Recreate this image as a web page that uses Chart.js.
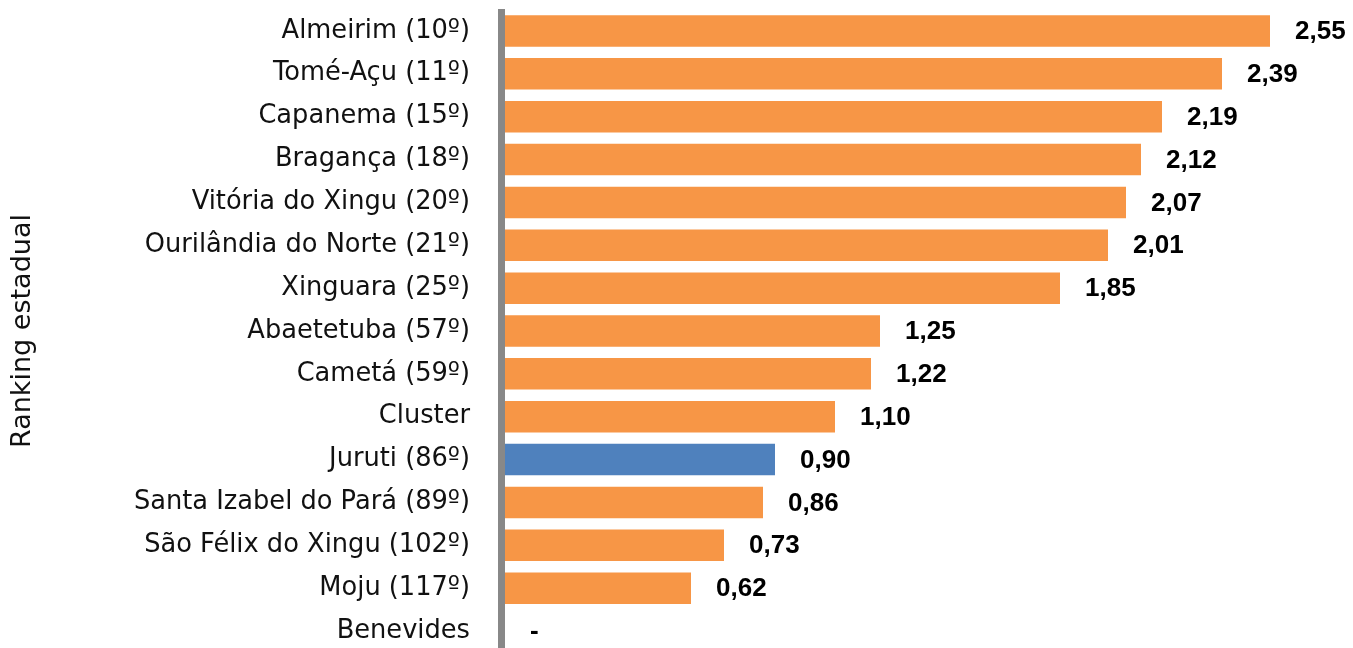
<!DOCTYPE html>
<html lang="pt">
<head>
    <meta charset="UTF-8">
    <title>Ranking estadual</title>
    <script src="https://cdn.jsdelivr.net/npm/chart.js"></script>
    <style>
        * { margin: 0; padding: 0; box-sizing: border-box; }
        html, body { width: 1353px; height: 648px; overflow: hidden; background: #fff; }
        .wrap { position: relative; width: 1353px; height: 662px; }
    </style>
</head>
<body>
    <div class="wrap">
        <canvas id="rankChart"></canvas>
    </div>

    <script>
        // Municipalities with their state ranking
        const categories = [
            'Almeirim (10º)', 'Tomé-Açu (11º)', 'Capanema (15º)', 'Bragança (18º)',
            'Vitória do Xingu (20º)', 'Ourilândia do Norte (21º)', 'Xinguara (25º)',
            'Abaetetuba (57º)', 'Cametá (59º)', 'Cluster', 'Juruti (86º)',
            'Santa Izabel do Pará (89º)', 'São Félix do Xingu (102º)', 'Moju (117º)', 'Benevides'
        ];
        const values = [2.55, 2.39, 2.19, 2.12, 2.07, 2.01, 1.85, 1.25, 1.22, 1.10, 0.90, 0.86, 0.73, 0.62, null];
        const highlighted = 'Juruti (86º)';

        const orange = '#F79646';
        const blue = '#4F81BD';

        // value labels to the right of each bar ("-" when there is no value)
        const valueLabels = {
            id: 'valueLabels',
            afterDatasetsDraw(chart) {
                const ctx = chart.ctx;
                const xScale = chart.scales.x;
                const meta = chart.getDatasetMeta(0);
                ctx.save();
                ctx.font = 'bold 26px "Liberation Sans", Arial, sans-serif';
                ctx.fillStyle = '#000';
                ctx.textAlign = 'left';
                ctx.textBaseline = 'middle';
                meta.data.forEach((bar, i) => {
                    const v = values[i];
                    const x = (v == null ? xScale.getPixelForValue(0) : bar.x) + 25;
                    const text = v == null ? '-' : v.toFixed(2).replace('.', ',');
                    ctx.fillText(text, x, bar.y + 1);
                });
                ctx.restore();
            }
        };

        // thick grey category axis line
        const axisLine = {
            id: 'axisLine',
            afterDraw(chart) {
                const { ctx, chartArea } = chart;
                ctx.save();
                ctx.fillStyle = '#888888';
                ctx.fillRect(chartArea.left - 7, 9, 7, chart.height);
                ctx.restore();
            }
        };

        new Chart(document.getElementById('rankChart'), {
            type: 'bar',
            data: {
                labels: categories,
                datasets: [{
                    data: values,
                    backgroundColor: categories.map(c => c === highlighted ? blue : orange),
                    borderWidth: 0,
                    barPercentage: 0.735,
                    categoryPercentage: 1
                }]
            },
            options: {
                indexAxis: 'y',
                responsive: true,
                maintainAspectRatio: false,
                animation: false,
                layout: {
                    padding: { top: 0, right: 8, bottom: 0, left: 0 }
                },
                plugins: {
                    legend: { display: false },
                    tooltip: { enabled: false }
                },
                scales: {
                    x: {
                        min: 0,
                        max: 2.8,
                        display: false
                    },
                    y: {
                        afterFit(scale) { scale.width = 505; },
                        // hidden tick marks give the gap between labels and the axis
                        grid: { display: false, drawTicks: true, tickLength: 35 },
                        border: { display: false },
                        ticks: {
                            padding: 0,
                            color: '#111',
                            font: { family: '"DejaVu Sans", sans-serif', size: 25.7, lineHeight: 0.74 }
                        },
                        title: {
                            display: true,
                            text: 'Ranking estadual',
                            color: '#111',
                            padding: { top: 7, bottom: 0 },
                            font: { family: '"DejaVu Sans", sans-serif', size: 27 }
                        }
                    }
                }
            },
            plugins: [valueLabels, axisLine]
        });
    </script>
</body>
</html>
